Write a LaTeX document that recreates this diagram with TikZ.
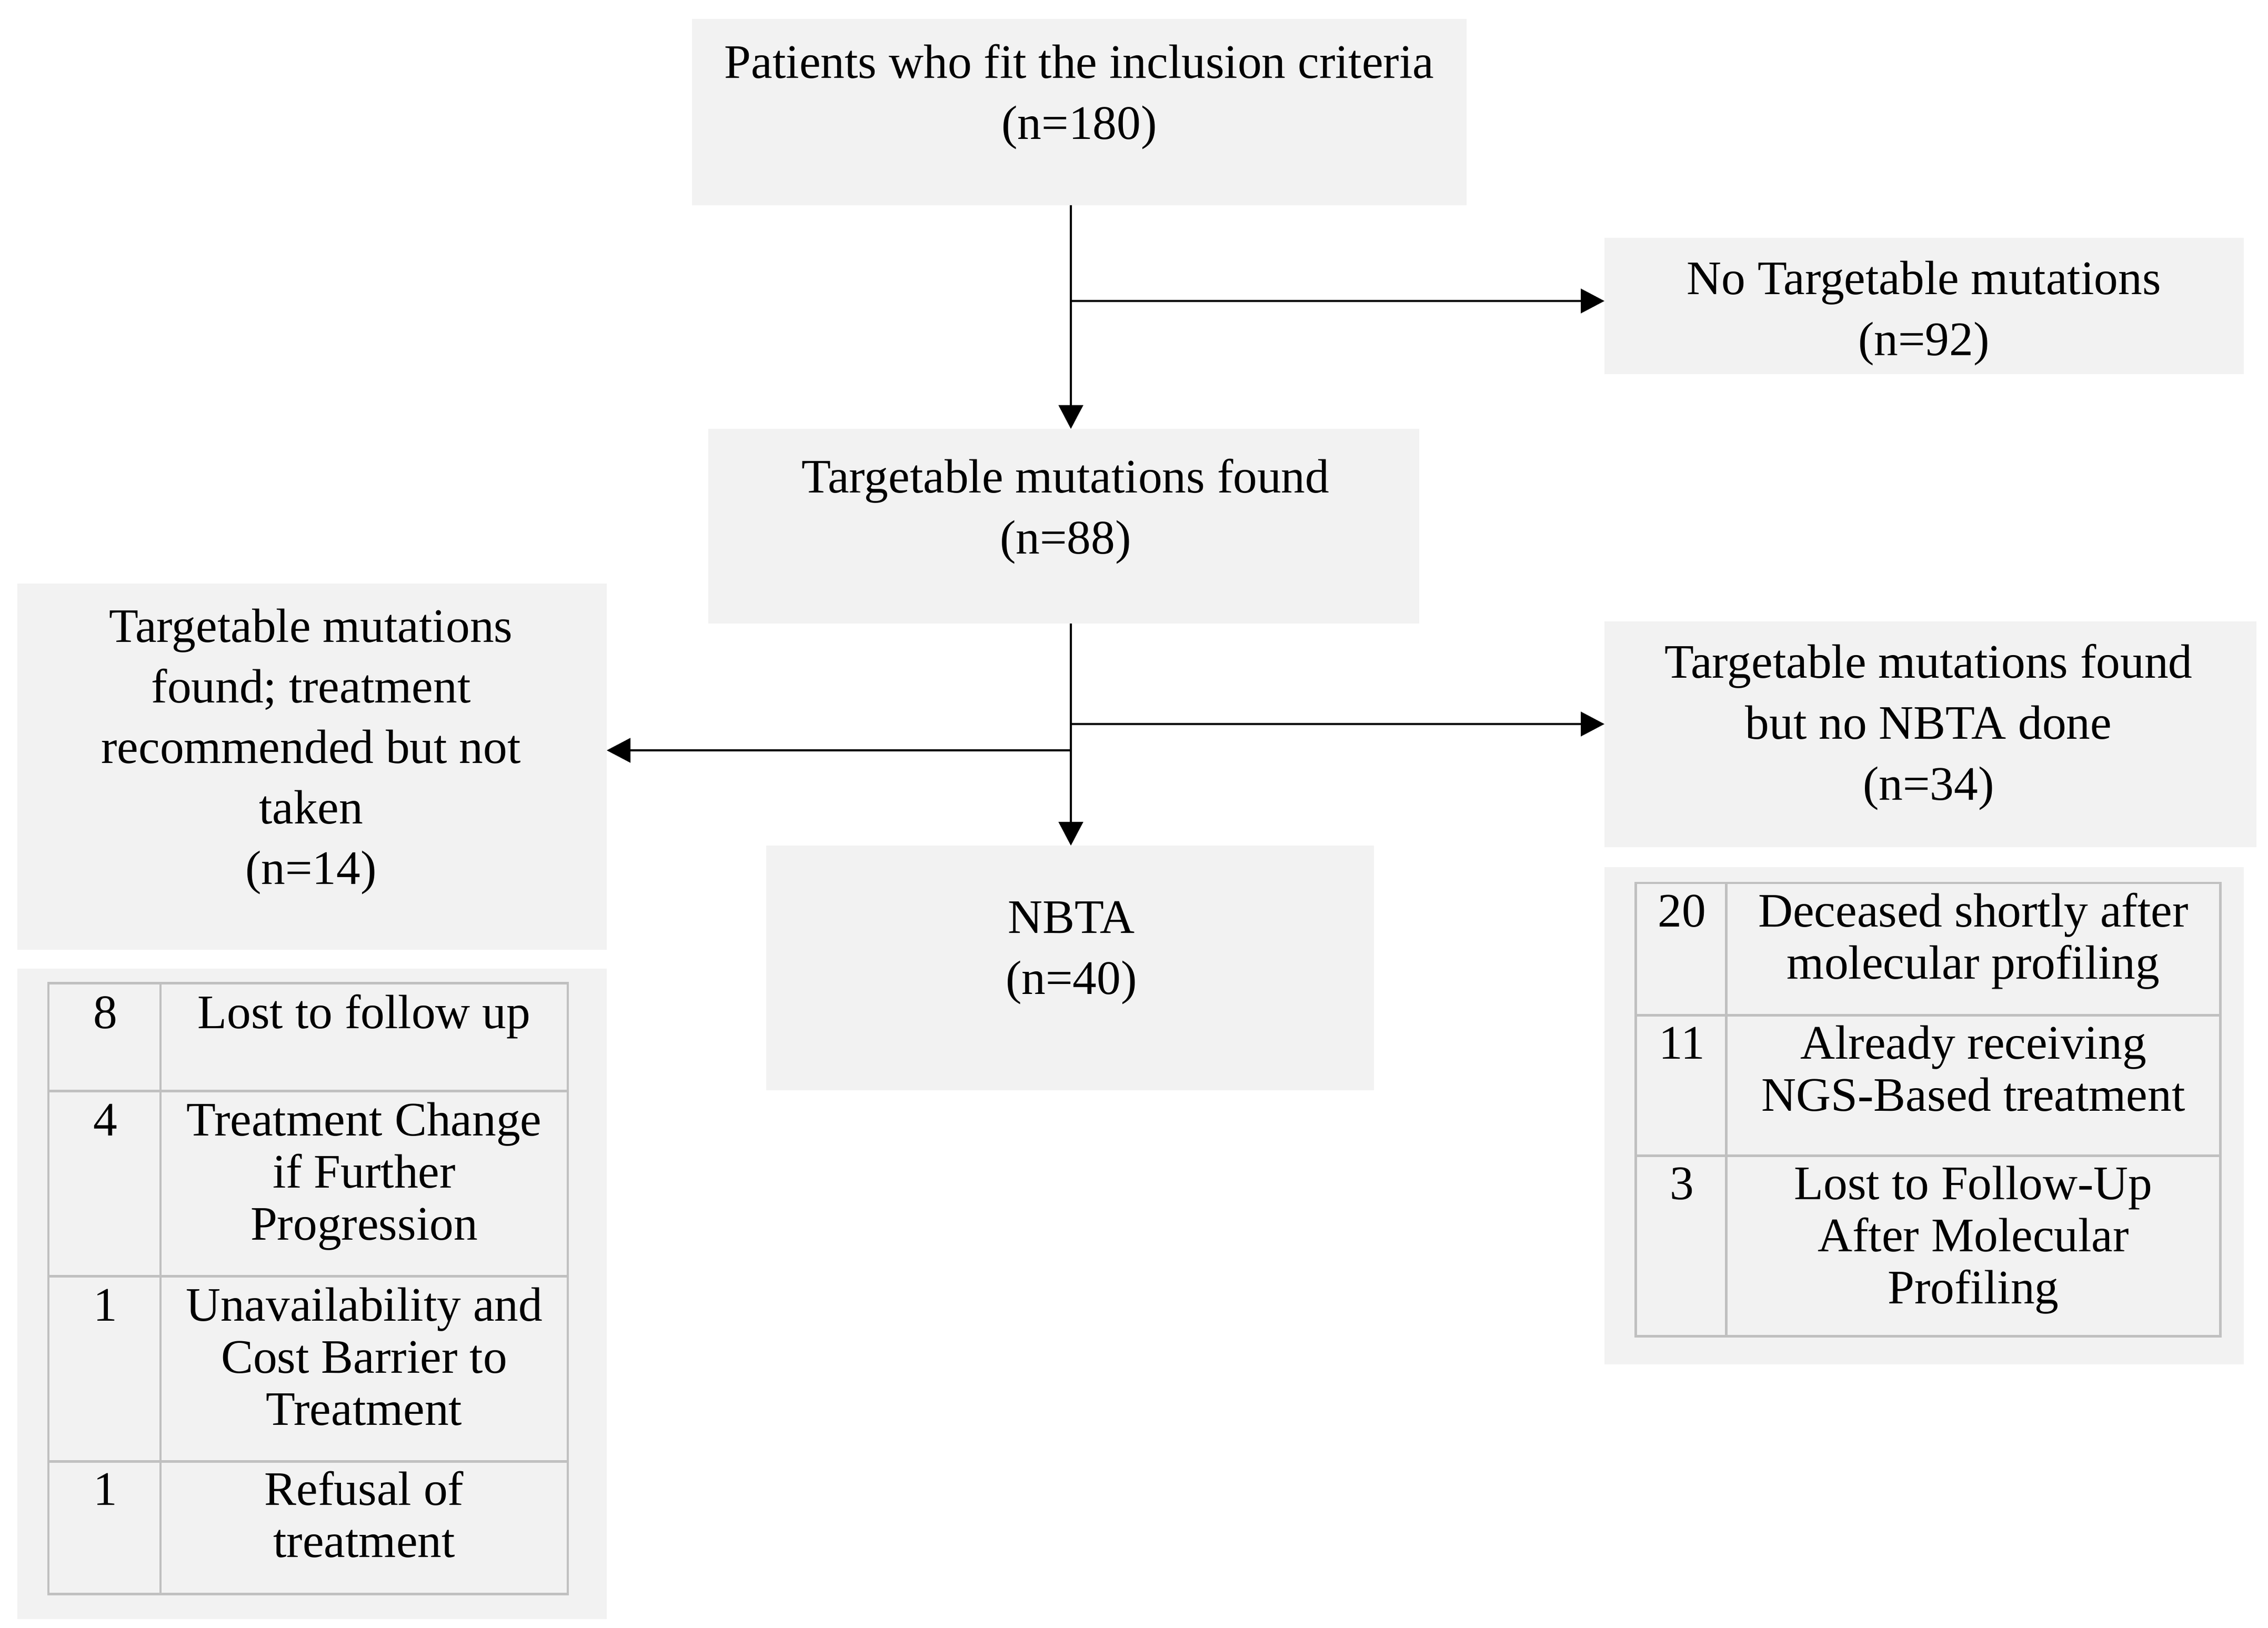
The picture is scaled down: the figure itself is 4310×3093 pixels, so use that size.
\documentclass[tikz,border=0pt]{standalone}
\usepackage{fontspec}
\setmainfont{Liberation Serif}
\usetikzlibrary{arrows.meta,fit}
\definecolor{boxgray}{HTML}{F2F2F2}
\definecolor{gridgray}{HTML}{C0C0C0}
\newcommand\mystrut{\rule{0pt}{24pt}}
\begin{document}
\begin{tikzpicture}[x=0.01cm,y=-0.01cm,
  panel/.style={fill=boxgray, inner sep=0pt, outer sep=0pt, draw=none},
  txt/.style={anchor=north, inner sep=0pt, align=center, font=\fontsize{26}{33}\selectfont},
  celltxt/.style={anchor=north, inner sep=0pt, align=center, font=\fontsize{26}{28.2}\selectfont},
  arr/.style={draw=black, line width=1.4pt, -{Triangle[length=0.45cm,width=0.46cm]}},
  tabline/.style={draw=gridgray, line width=1.4pt}]
\useasboundingbox (0,0) rectangle (4310,3093);

% panels
\node[panel, fit={(1315,36)(2787,390)}] (incl) {};
\node[panel, fit={(3049,452)(4264,711)}] (notgt) {};
\node[panel, fit={(1346,815)(2697,1185)}] (found) {};
\node[panel, fit={(33,1109)(1153,1805)}] (nottaken) {};
\node[panel, fit={(33,1841)(1153,3077)}] (ltab) {};
\node[panel, fit={(1456,1607)(2611,2072)}] (nbta) {};
\node[panel, fit={(3049,1181)(4288,1610)}] (nonbta) {};
\node[panel, fit={(3049,1648)(4264,2593)}] (rtab) {};

% panel texts
\node[txt] (tincl) at (2051,63) {\mystrut Patients who fit the inclusion criteria\\(n=180)};
\node[txt] (tnotgt) at (3656,474) {\mystrut No Targetable mutations\\(n=92)};
\node[txt] (tfound) at (2025,851) {\mystrut Targetable mutations found\\(n=88)};
\node[txt, font=\fontsize{26}{32.7}\selectfont] (tnottaken) at (591,1135) {\mystrut Targetable mutations\\found; treatment\\recommended but not\\taken\\(n=14)};
\node[txt] (tnbta) at (2036,1688) {\mystrut NBTA\\(n=40)};
\node[txt] (tnonbta) at (3665,1203) {\mystrut Targetable mutations found\\but no NBTA done\\(n=34)};

% left table
\draw[tabline] (92,1868) rectangle (1079,3029);
\draw[tabline] (305,1868) -- (305,3029);
\draw[tabline] (92,2073) -- (1079,2073);
\draw[tabline] (92,2425) -- (1079,2425);
\draw[tabline] (92,2777) -- (1079,2777);
\node[celltxt] (ln1) at (200,1869) {\mystrut 8};
\node[celltxt] (lt1) at (692,1869) {\mystrut Lost to follow up};
\node[celltxt] (ln2) at (200,2073) {\mystrut 4};
\node[celltxt] (lt2) at (692,2073) {\mystrut Treatment Change\\if Further\\Progression};
\node[celltxt] (ln3) at (200,2425) {\mystrut 1};
\node[celltxt] (lt3) at (692,2425) {\mystrut Unavailability and\\Cost Barrier to\\Treatment};
\node[celltxt] (ln4) at (200,2775) {\mystrut 1};
\node[celltxt] (lt4) at (692,2775) {\mystrut Refusal of\\treatment};

% right table
\draw[tabline] (3108,1678) rectangle (4219,2539);
\draw[tabline] (3280,1678) -- (3280,2539);
\draw[tabline] (3108,1929) -- (4219,1929);
\draw[tabline] (3108,2196) -- (4219,2196);
\node[celltxt] (rn1) at (3196,1676) {\mystrut 20};
\node[celltxt] (rt1) at (3750,1676) {\mystrut Deceased shortly after\\molecular profiling};
\node[celltxt] (rn2) at (3196,1927) {\mystrut 11};
\node[celltxt] (rt2) at (3750,1927) {\mystrut Already receiving\\NGS-Based treatment};
\node[celltxt] (rn3) at (3196,2194) {\mystrut 3};
\node[celltxt] (rt3) at (3750,2194) {\mystrut Lost to Follow-Up\\After Molecular\\Profiling};

% connectors
\coordinate (tx) at (2035,0);
\coordinate (j1) at (2035,572);
\coordinate (j2) at (2035,1376);
\coordinate (j3) at (2035,1426);
\draw[arr] (incl.south -| tx) -- (found.north -| tx);
\draw[arr] (j1) -- (notgt.west |- j1);
\draw[arr] (found.south -| tx) -- (nbta.north -| tx);
\draw[arr] (j2) -- (nonbta.west |- j2);
\draw[arr] (j3) -- (nottaken.east |- j3);
\end{tikzpicture}
\end{document}
